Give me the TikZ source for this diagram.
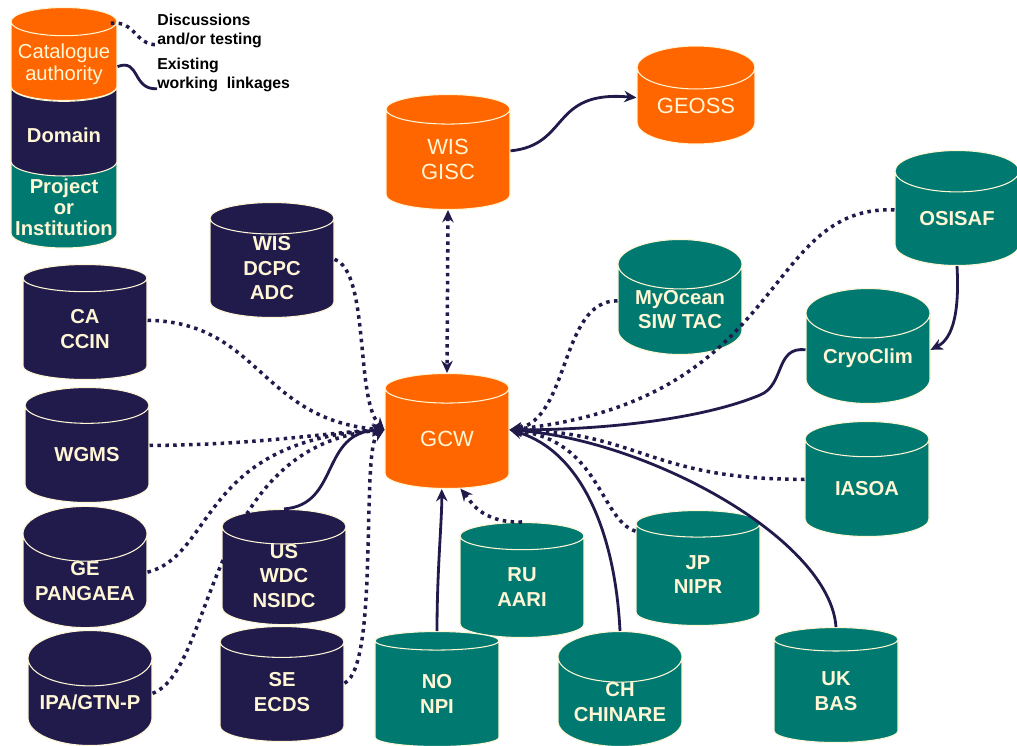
\documentclass[tikz,border=0pt]{standalone}
\usepackage{fontspec}
\setmainfont{Liberation Sans}
\usetikzlibrary{arrows.meta}
\usetikzlibrary{shapes.geometric}
\definecolor{gcworange}{HTML}{FF6600}
\definecolor{gcwnavy}{HTML}{211B4C}
\definecolor{gcwteal}{HTML}{007A70}
\definecolor{gcwcream}{HTML}{FFF6D5}

\begin{document}
\begin{tikzpicture}[
    x=0.02cm, y=-0.02cm,
    db/.style = {cylinder, shape border rotate=90, aspect=0.55, draw=gcwcream, line width=0.6pt,
      minimum width=2.48cm, minimum height=2.3cm, inner sep=0pt, align=center, text=gcwcream,
      anchor=shape center, font=\bfseries\fontsize{11.5}{13.8}\selectfont},
    authoritybox/.style = {db, fill=gcworange, font=\fontsize{12.5}{14}\selectfont},
    domainbox/.style = {db, fill=gcwnavy},
    projectbox/.style = {db, fill=gcwteal},
    legendbox/.style = {aspect=0.3, minimum width=2.12cm},
    legendlabel/.style = {text=gcwcream, align=center, inner sep=0pt, font=\bfseries\fontsize{11.5}{12}\selectfont},
    discuss/.style = {draw=gcwnavy, line width=2pt, dash pattern=on 2pt off 2.5pt},
    linked/.style = {draw=gcwnavy, line width=1.6pt},
    tip/.style = {-{Stealth[length=7pt, width=6.5pt]}},
    legendtext/.style = {font=\bfseries\fontsize{9}{10.8}\selectfont, align=left, anchor=west, inner sep=0pt},
    ]
    \useasboundingbox[fill=white] (0,0) rectangle (1017,745);

    % legend
    \node[projectbox, legendbox, minimum height=2.16cm] (legproject) at (64,194) {\phantom{Institution}};
    \node[domainbox, legendbox, minimum height=2.08cm] (legdomain) at (64,124) {\phantom{Institution}};
    \node[authoritybox, legendbox, minimum height=1.86cm] (legcatalog) at (64,54) {\phantom{Institution}};
    \node[legendlabel] (legprojecttext) at (64,207) {Project\\or\\Institution};
    \node[legendlabel] (legdomaintext) at (64,135) {Domain};
    \node[legendlabel, font=\fontsize{11.5}{12.5}\selectfont] (legcatalogtext) at (64,64) {Catalogue\\authority};
    \node[legendtext] (legdiscuss) at (157,31) {Discussions\\and/or testing};
    \node[legendtext] (legexist) at (157,75) {Existing\\working\ \ linkages};
    \draw[discuss] ([yshift=-5pt]legcatalog.north east) .. controls (135,20) and (135,45) .. ([yshift=2pt]legdiscuss.south west);
    \draw[linked] ([yshift=-3pt]legcatalog.east) .. controls (140,58) and (132,90) .. ([yshift=2pt]legexist.south west);

    % catalogue authorities
    \node[authoritybox, minimum width=2.36cm, minimum height=1.96cm] (geoss) at (696,95) {GEOSS};
    \node[authoritybox] (gisc) at (448,152) {WIS\\GISC};
    \node[authoritybox] (gcw) at (447,431) {GCW};

    % domains
    \node[domainbox] (dcpc) at (272,260) {WIS\\DCPC\\ADC};
    \node[domainbox] (ccin) at (85,322) {CA\\CCIN};
    \node[domainbox] (wgms) at (87,445) {WGMS};
    \node[domainbox] (pangaea) at (85,567) {GE\\PANGAEA};
    \node[domainbox] (nsidc) at (284,567) {US\\WDC\\NSIDC};
    \node[domainbox] (ipa) at (90,688) {IPA/GTN-P};
    \node[domainbox] (ecds) at (282,684) {SE\\ECDS};

    % projects and institutions
    \node[projectbox] (osisaf) at (957,208) {OSISAF};
    \node[projectbox] (myocean) at (680,297) {MyOcean\\SIW TAC};
    \node[projectbox] (cryoclim) at (868,346) {CryoClim};
    \node[projectbox] (iasoa) at (867,479) {IASOA};
    \node[projectbox] (aari) at (522,580) {RU\\AARI};
    \node[projectbox] (nipr) at (698,568) {JP\\NIPR};
    \node[projectbox] (npi) at (437,689) {NO\\NPI};
    \node[projectbox] (chinare) at (620,689) {CH\\CHINARE};
    \node[projectbox] (bas) at (836,685) {UK\\BAS};

    % links into GCW from the left
    \draw[discuss, tip] (dcpc.8) .. controls (370,272) and (355,400) .. (gcw.172);
    \draw[discuss, tip] (ccin.8) .. controls (260,322) and (260,420) .. (gcw.172);
    \draw[discuss, tip] (wgms.8) .. controls (260,445) and (330,432) .. (gcw.172);
    \draw[discuss, tip] (pangaea.8) .. controls (215,555) and (200,440) .. (gcw.172);
    \draw[discuss, tip] (ipa.8) .. controls (215,670) and (205,445) .. (gcw.172);
    \draw[linked, tip] (nsidc.north) .. controls (340,505) and (320,432) .. (gcw.172);
    \draw[discuss, tip] (ecds.8) .. controls (380,665) and (360,445) .. (gcw.172);

    % links into GCW from below
    \draw[linked, tip] (npi.north) .. controls (437,570) and (442,520) .. ([xshift=-3pt]gcw.south);
    \draw[discuss, tip] (aari.north) .. controls (480,523) and (470,500) .. (gcw.285);

    % links into GCW from the right
    \draw[discuss, tip] (myocean.172) .. controls (560,300) and (570,420) .. (gcw.8);
    \draw[discuss, tip] (osisaf.172) .. controls (760,205) and (790,400) .. (gcw.8);
    \draw[linked, tip] (cryoclim.172) .. controls (775,346) and (785,385) .. (760,395) .. controls (700,420) and (600,430) .. (gcw.8);
    \draw[discuss, tip] (iasoa.172) .. controls (650,480) and (640,432) .. (gcw.8);
    \draw[discuss, tip] (nipr.145) .. controls (600,520) and (600,440) .. (gcw.8);
    \draw[linked, tip] (chinare.north) .. controls (615,530) and (580,450) .. (gcw.8);
    \draw[linked, tip] (bas.north) .. controls (830,540) and (650,440) .. (gcw.8);

    % other links
    \draw[linked, tip] (gisc.8) .. controls (570,145) and (550,90) .. (geoss.172);
    \draw[discuss, {Stealth[length=7pt, width=6.5pt]}-{Stealth[length=7pt, width=6.5pt]}] (gisc.south) -- (gcw.north);
    \draw[linked, tip] (osisaf.south) .. controls (960,320) and (950,340) .. (cryoclim.8);
\end{tikzpicture}
\end{document}
